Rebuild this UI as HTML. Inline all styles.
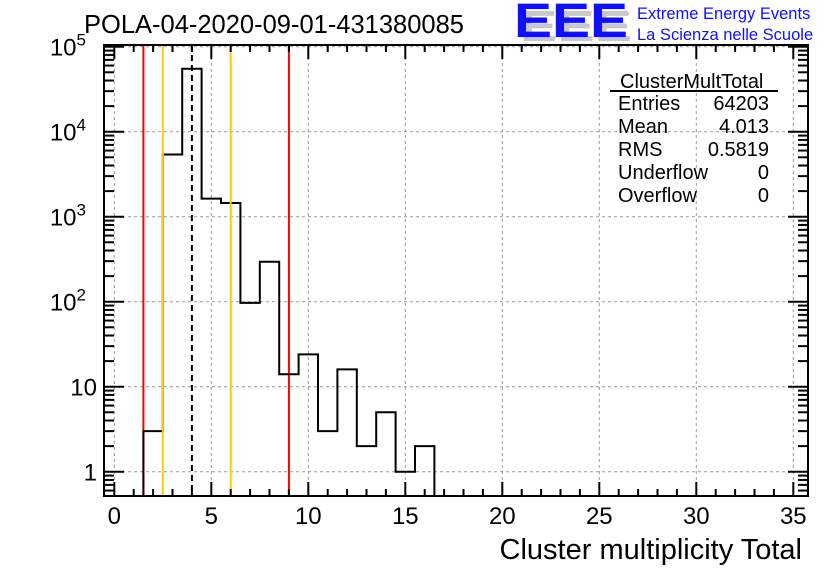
<!DOCTYPE html>
<html><head><meta charset="utf-8"><style>
body{margin:0;background:#fff;}
svg{display:block;font-family:"Liberation Sans",sans-serif;}
</style></head><body>
<svg id="c" width="836" height="572">
<rect width="836" height="572" fill="#fff"/>
<text x="84" y="33" font-size="25.5">POLA-04-2020-09-01-431380085</text>
<g>
<text x="520" y="41" font-size="44" font-weight="bold" fill="#c8c8c8" textLength="112" lengthAdjust="spacingAndGlyphs">EEE</text>
<text x="514" y="37" font-size="48" font-weight="bold" fill="#1010ff" textLength="114" lengthAdjust="spacingAndGlyphs">EEE</text>
<text x="637" y="19" font-size="16.5" fill="#1010ff">Extreme Energy Events</text>
<text x="637" y="40" font-size="16.5" fill="#1010ff">La Scienza nelle Scuole</text>
</g>
<g id="grid"></g><g id="marks"></g><g id="axes"></g>
<g font-size="20">
<text x="620" y="88">ClusterMultTotal</text>
<line x1="610" y1="91" x2="778" y2="91" stroke="#000" stroke-width="2"/>
<text x="618" y="110">Entries</text><text x="769" y="110" text-anchor="end">64203</text>
<text x="618" y="133">Mean</text><text x="769" y="133" text-anchor="end">4.013</text>
<text x="618" y="156">RMS</text><text x="769" y="156" text-anchor="end">0.5819</text>
<text x="618" y="179">Underflow</text><text x="769" y="179" text-anchor="end">0</text>
<text x="618" y="202">Overflow</text><text x="769" y="202" text-anchor="end">0</text>
</g>
<text x="802" y="559" font-size="29" text-anchor="end">Cluster multiplicity Total</text>
</svg>
<script>
const binCenters=[2,3,4,5,6,7,8,9,10,11,12,13,14,15,16];
const counts=[3,5400,55000,1630,1450,97,295,14,24,3,16,2,5,1,2];
const xTicks=[0,5,10,15,20,25,30,35];
const yDecades=[0,1,2,3,4,5];
const yLabels=["1","10","10²","10³","10⁴","10⁵"];
const redLines=[1.5,9];
const orangeLines=[2.5,6];
const meanLine=[4];
const NS="http://www.w3.org/2000/svg";
const L=104,R=808,T=45,B=496;
const X=v=>114.3+19.4*v;
const Y=v=>471.7-85*Math.log10(v);
function mk(p,t,a){const e=document.createElementNS(NS,t);for(const k in a)e.setAttribute(k,a[k]);p.appendChild(e);return e;}
const grid=document.getElementById('grid'),marks=document.getElementById('marks'),axes=document.getElementById('axes');
xTicks.forEach(v=>{const g=mk(grid,'line',{x1:X(v),x2:X(v),y1:T,y2:B,stroke:'#999','stroke-dasharray':'3,3'});

});
yDecades.forEach(d=>{const g=mk(grid,'line',{x1:L,x2:R,y1:Y(Math.pow(10,d)),y2:Y(Math.pow(10,d)),stroke:'#999','stroke-dasharray':'3,3'});

});
redLines.forEach(v=>{const l=mk(marks,'line',{x1:X(v),x2:X(v),y1:T,y2:B,stroke:'#f00','stroke-width':2});

});
let d='';
binCenters.forEach((c,i)=>{const x0=X(c-0.5),x1=X(c+0.5),y=Y(counts[i]);
if(i===0)d+=`M${x0},${B}`;d+=` L${x0},${y} L${x1},${y}`;});
d+=` L${X(binCenters[binCenters.length-1]+0.5)},${B}`;
const h=mk(marks,'path',{d:d,fill:'none',stroke:'#000','stroke-width':2});


orangeLines.forEach(v=>{const l=mk(marks,'line',{x1:X(v),x2:X(v),y1:T,y2:B,stroke:'#fc0','stroke-width':2});

});
meanLine.forEach(v=>{const l=mk(marks,'line',{x1:X(v),x2:X(v),y1:T,y2:B,stroke:'#000','stroke-width':2,'stroke-dasharray':'6,4'});

});
const fr=mk(axes,'rect',{x:L,y:T,width:R-L,height:B-T,fill:'none',stroke:'#000','stroke-width':2});


for(let v=0;v<=35;v++){const len=v%5===0?14:7;
mk(axes,'line',{x1:X(v),x2:X(v),y1:B,y2:B-len,stroke:'#000','stroke-width':2});
mk(axes,'line',{x1:X(v),x2:X(v),y1:T,y2:T+len,stroke:'#000','stroke-width':2});}
xTicks.forEach(v=>{const t=mk(axes,'text',{x:X(v),y:524,'font-size':24,'text-anchor':'middle'});t.textContent=v;

});
for(let dd=-1;dd<=5;dd++){for(let m=1;m<=9;m++){const v=m*Math.pow(10,dd),y=Y(v);if(y>B||y<T)continue;
const len=m===1?20:10;
mk(axes,'line',{x1:L,x2:L+len,y1:y,y2:y,stroke:'#000','stroke-width':2});
mk(axes,'line',{x1:R,x2:R-len,y1:y,y2:y,stroke:'#000','stroke-width':2});}}
yDecades.forEach((dd,i)=>{const y=Y(Math.pow(10,dd));
const t=mk(axes,'text',{x:97,y:y+9,'font-size':24,'text-anchor':'end'});


if(dd<2){t.textContent=yLabels[i];}else{t.textContent='10';const s=mk(t,'tspan',{dy:-10,'font-size':17});s.textContent=String(dd);t.setAttribute('x',86);}});
</script>
</body></html>
